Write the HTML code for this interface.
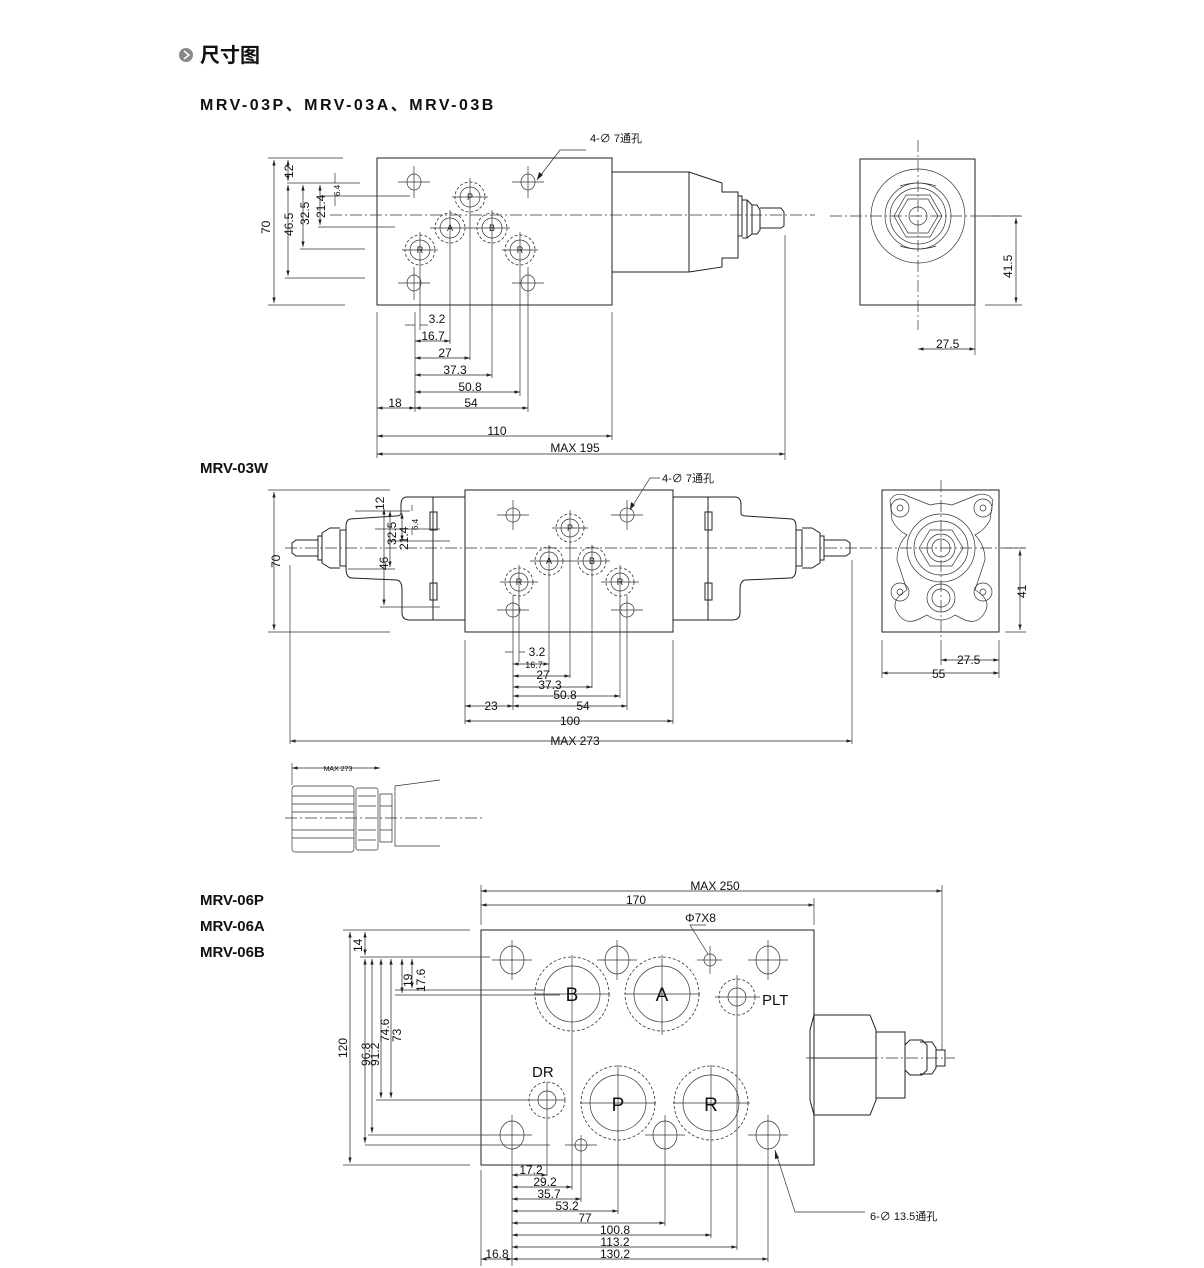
<!DOCTYPE html>
<html><head><meta charset="utf-8"><style>
body{margin:0;background:#fff;}
svg{display:block;}
text{font-family:"Liberation Sans","Noto Sans CJK SC",sans-serif;fill:#111;}
.l{stroke:#222;stroke-width:1;fill:none;}
.t{stroke:#333;stroke-width:.7;fill:none;}
.c{stroke:#333;stroke-width:.7;fill:none;stroke-dasharray:12 3 2 3;}
.d{stroke:#333;stroke-width:.8;fill:none;stroke-dasharray:3 2;}
.dm{stroke:#222;stroke-width:.7;fill:none;marker-start:url(#a);marker-end:url(#a);}
.s{font-size:12px;}
</style></head><body>
<svg width="1204" height="1268" viewBox="0 0 1204 1268" xmlns="http://www.w3.org/2000/svg">
<defs>
<marker id="a" viewBox="0 0 10 6" refX="10" refY="3" markerWidth="8" markerHeight="5" orient="auto-start-reverse"><path d="M0,0 L10,3 L0,6z" fill="#222"/></marker>
</defs>
<circle cx="186" cy="55" r="7" fill="#888"/><path d="M184,51 L189,55 L184,59" stroke="#fff" stroke-width="1.5" fill="none"/>
<text x="200" y="62" style="font-size:20px;font-weight:bold">尺寸图</text>
<text x="200" y="110" style="font-size:16px;font-weight:bold;letter-spacing:2.5px">MRV-03P、MRV-03A、MRV-03B</text>
<text x="200" y="473" style="font-size:15px;font-weight:bold">MRV-03W</text>
<text x="200" y="905" style="font-size:15px;font-weight:bold">MRV-06P</text>
<text x="200" y="931" style="font-size:15px;font-weight:bold">MRV-06A</text>
<text x="200" y="957" style="font-size:15px;font-weight:bold">MRV-06B</text>

<rect class="l" x="377" y="158" width="235" height="147"/>
<path class="l" d="M612,172 H689 L722,183 V192 H738 V258 H722 V267 L689,272 H612"/>
<path class="l" d="M689,172 V272"/>
<path class="l" d="M738,196 H742 V236 H738 M742,200 H747 L752,205 V234 L747,238 H742 M747,200 V238 M752,205 H757 L760,210 V230 L757,234 H752 M760,208 H781 L784,212 V226 L781,228 H760"/>
<path class="c" d="M330,215 H815"/>
<g class="t">
<ellipse cx="414" cy="182" rx="7" ry="8"/><ellipse cx="528" cy="182" rx="7" ry="8"/>
<ellipse cx="414" cy="283" rx="7" ry="8"/><ellipse cx="528" cy="283" rx="7" ry="8"/>
<circle cx="470" cy="197" r="10"/><circle cx="450" cy="228" r="10"/><circle cx="492" cy="228" r="10"/>
<circle cx="420" cy="250" r="10"/><circle cx="520" cy="250" r="10"/>
<path d="M398,182 H430 M414,166 V198 M512,182 H544 M528,166 V198 M398,283 H430 M414,267 V300 M512,283 H544 M528,267 V300 M452,197 H488 M470,178 V216 M430,228 H510 M450,210 V246 M492,210 V246 M402,250 H438 M420,232 V268 M502,250 H538 M520,232 V268"/>
</g>
<g class="d"><circle cx="470" cy="197" r="15"/><circle cx="450" cy="228" r="15"/><circle cx="492" cy="228" r="15"/><circle cx="420" cy="250" r="15"/><circle cx="520" cy="250" r="15"/></g>
<g style="font-size:9px" text-anchor="middle"><text x="470" y="200">P</text><text x="450" y="231">A</text><text x="492" y="231">B</text><text x="420" y="253">R</text><text x="520" y="253">R</text></g>
<path class="t" d="M268,158 H343 M287,183 H360 M303,183 H360 M320,196 H410 M318,227 H395 M300,249 H365 M285,278 H365 M268,305 H345"/>
<path class="dm" d="M274,160 V303"/><path class="dm" d="M288,160 V181"/><path class="dm" d="M288,185 V276"/>
<path class="dm" d="M303,185 V247"/><path class="dm" d="M320,185 V225"/><path class="t" d="M335,173 V183 M335,196 V206"/>
<g class="s"><text transform="translate(270,234) rotate(-90)">70</text><text transform="translate(293,178) rotate(-90)">12</text><text transform="translate(293,236) rotate(-90)">46.5</text><text transform="translate(309,225) rotate(-90)">32.5</text><text transform="translate(325,218) rotate(-90)">21.4</text><text transform="translate(340,196) rotate(-90)" style="font-size:8px">6.4</text></g>
<path class="t" d="M377,312 V458 M415,312 V412 M420,268 V330 M450,246 V344 M470,216 V360 M492,246 V378 M520,268 V396 M528,300 V412 M612,312 V440 M785,235 V460"/>
<path class="t" d="M405,325 H415 M420,325 H428"/>
<path class="dm" d="M415,341 H450"/><path class="dm" d="M415,358 H470"/><path class="dm" d="M415,375 H492"/><path class="dm" d="M415,392 H520"/><path class="dm" d="M377,408 H415"/><path class="dm" d="M415,408 H528"/><path class="dm" d="M377,436 H612"/><path class="dm" d="M377,454 H785"/>
<g class="s" text-anchor="middle"><text x="437" y="323">3.2</text><text x="433" y="340">16.7</text><text x="445" y="357">27</text><text x="455" y="374">37.3</text><text x="470" y="391">50.8</text><text x="395" y="407">18</text><text x="471" y="407">54</text><text x="497" y="435">110</text><text x="575" y="452">MAX  195</text></g>
<path class="t" d="M537,180 L560,150 H586"/><path d="M537,180 l2,-8 l4,3z" fill="#222"/>
<text x="590" y="142" style="font-size:11px">4-∅ 7通孔</text>
<rect class="l" x="860" y="159" width="115" height="146"/>
<g class="t"><circle cx="918" cy="216" r="47"/><circle cx="918" cy="216" r="33"/><circle cx="918" cy="216" r="28"/><circle cx="918" cy="216" r="9"/>
<path d="M894,216 L906,195 H930 L942,216 L930,237 H906z"/><path d="M898,216 L908,199 H928 L938,216 L928,233 H908z"/>
<path d="M900,186 Q918,180 936,186 M900,246 Q918,252 936,246"/></g>
<path class="c" d="M918,140 V330 M830,216 H1020"/>
<path class="t" d="M975,305 V355 M985,305 H1022 M980,216 H1022"/>
<path class="dm" d="M1016,218 V303"/><path class="dm" d="M918,349 H975"/>
<g class="s"><text transform="translate(1012,278) rotate(-90)">41.5</text><text x="936" y="348">27.5</text></g>

<rect class="l" x="465" y="490" width="208" height="142"/>
<path class="l" d="M465,497 H407 Q401,497 401,505 V513 Q401,516 396,516 L350,519 Q346,520 346,526 V568 Q346,578 352,578 L397,580 Q402,581 402,590 V613 Q402,620 410,620 H465"/>
<path class="l" d="M433,497 V620 M430,512 H437 V530 H430z M430,583 H437 V600 H430z"/>
<path class="l" d="M673,497 H735 Q741,497 741,505 V513 Q741,516 746,516 L792,519 Q796,520 796,526 V568 Q796,578 790,578 L745,580 Q740,581 740,590 V613 Q740,620 732,620 H673"/>
<path class="l" d="M708,497 V620 M705,512 H712 V530 H705z M705,583 H712 V600 H705z"/>
<path class="l" d="M346,530 H340 V566 H346 M340,528 L330,528 L322,533 V563 L330,568 H340 M322,536 H318 V560 H322 M318,540 H296 L292,543 V553 L296,556 H318"/>
<path class="l" d="M796,530 H802 V566 H796 M802,528 L812,528 L820,533 V563 L812,568 H802 M820,536 H824 V560 H820 M824,540 H846 L850,543 V553 L846,556 H824"/>
<path class="c" d="M285,548 H862"/>
<g class="t">
<circle cx="513" cy="515" r="7"/><circle cx="627" cy="515" r="7"/><circle cx="513" cy="610" r="7"/><circle cx="627" cy="610" r="7"/>
<circle cx="570" cy="528" r="9"/><circle cx="549" cy="561" r="9"/><circle cx="592" cy="561" r="9"/><circle cx="519" cy="582" r="9"/><circle cx="620" cy="582" r="9"/>
<path d="M497,515 H529 M513,500 V530 M611,515 H643 M627,500 V530 M497,610 H529 M513,595 V625 M611,610 H643 M627,595 V625 M552,528 H588 M570,510 V546 M530,561 H610 M549,545 V577 M592,545 V577 M500,582 H538 M519,565 V600 M601,582 H639 M620,565 V600"/></g>
<g class="d"><circle cx="570" cy="528" r="14"/><circle cx="549" cy="561" r="14"/><circle cx="592" cy="561" r="14"/><circle cx="519" cy="582" r="14"/><circle cx="620" cy="582" r="14"/></g>
<g style="font-size:9px" text-anchor="middle"><text x="570" y="531">P</text><text x="549" y="564">A</text><text x="592" y="564">B</text><text x="519" y="585">R</text><text x="620" y="585">R</text></g>
<path class="t" d="M268,490 H390 M268,632 H390 M355,511 H410 M375,529 H440 M388,541 H450 M348,569 H395 M380,607 H440"/>
<path class="dm" d="M274,492 V630"/><path class="dm" d="M384,509 V605"/><path class="dm" d="M390,511 V567"/><path class="dm" d="M402,513 V541"/><path class="t" d="M412,505 V511 M412,529 V535"/>
<g class="s"><text transform="translate(280,568) rotate(-90)">70</text><text transform="translate(384,510) rotate(-90)">12</text><text transform="translate(388,570) rotate(-90)">46</text><text transform="translate(396,545) rotate(-90)">32.5</text><text transform="translate(408,550) rotate(-90)">21.4</text><text transform="translate(418,530) rotate(-90)" style="font-size:8px">6.4</text></g>
<path class="t" d="M465,640 V724 M513,625 V710 M519,598 V662 M549,577 V672 M570,546 V678 M592,577 V688 M620,600 V698 M627,625 V710 M673,640 V724 M290,565 V744 M852,560 V744"/>
<path class="t" d="M505,652 H513 M519,652 H525"/>
<path class="dm" d="M513,664 H549"/><path class="dm" d="M513,676 H570"/><path class="dm" d="M513,687 H592"/><path class="dm" d="M513,696 H620"/><path class="dm" d="M465,706 H513"/><path class="dm" d="M513,706 H627"/><path class="dm" d="M465,721 H673"/><path class="dm" d="M290,741 H852"/>
<g class="s" text-anchor="middle"><text x="537" y="656">3.2</text><text x="534" y="668" style="font-size:9px">16.7</text><text x="543" y="679">27</text><text x="550" y="689">37.3</text><text x="565" y="699">50.8</text><text x="491" y="710">23</text><text x="583" y="710">54</text><text x="570" y="725">100</text><text x="575" y="745">MAX  273</text></g>
<path class="t" d="M630,510 L650,478 H660"/><path d="M630,510 l1,-8 l4,3z" fill="#222"/>
<text x="662" y="482" style="font-size:11px">4-∅ 7通孔</text>
<rect class="l" x="882" y="490" width="117" height="142"/>
<g class="t">
<path d="M890,500 Q895,492 905,495 L930,505 Q941,502 952,505 L977,495 Q988,492 993,500 L990,520 Q985,530 975,535 Q985,545 985,560 L975,590 Q992,600 985,612 Q978,625 965,620 L955,615 Q941,625 927,615 L917,620 Q904,625 897,612 Q890,600 907,590 L897,560 Q897,545 907,535 Q897,530 892,520z"/>
<circle cx="900" cy="508" r="9"/><circle cx="900" cy="508" r="3"/><circle cx="983" cy="508" r="9"/><circle cx="983" cy="508" r="3"/>
<circle cx="900" cy="592" r="9"/><circle cx="900" cy="592" r="3"/><circle cx="983" cy="592" r="9"/><circle cx="983" cy="592" r="3"/>
<circle cx="941" cy="548" r="34"/><circle cx="941" cy="548" r="27"/><circle cx="941" cy="548" r="14"/><circle cx="941" cy="548" r="9"/>
<path d="M919,548 L930,530 H952 L963,548 L952,566 H930z"/>
<circle cx="941" cy="598" r="14"/><circle cx="941" cy="598" r="9"/></g>
<path class="c" d="M941,480 V640 M860,548 H1025"/>
<path class="t" d="M882,640 V678 M999,640 V678 M941,640 V665 M1005,632 H1026 M1005,548 H1026"/>
<path class="dm" d="M1020,550 V630"/><path class="dm" d="M941,660 H999"/><path class="dm" d="M882,673 H999"/>
<g class="s"><text transform="translate(1026,598) rotate(-90)">41</text><text x="957" y="664">27.5</text><text x="932" y="678">55</text></g>
<path class="t" d="M292,763 V785"/><path class="dm" d="M292,768 H380"/>
<text x="338" y="771" style="font-size:7px" text-anchor="middle">MAX 273</text>
<g class="t"><rect x="292" y="786" width="62" height="66" rx="3"/><rect x="356" y="788" width="22" height="62" rx="2"/>
<path d="M292,796 H354 M292,804 H354 M292,812 H354 M292,830 H354 M292,838 H354 M358,796 H376 M358,806 H376 M358,830 H376 M358,840 H376"/>
<path d="M380,794 H392 V842 H380z M380,806 H392 M380,830 H392"/>
<path d="M395,786 L440,780 M395,786 V846 H440"/></g>
<path class="c" d="M285,818 H485"/>

<rect class="l" x="481" y="930" width="333" height="235"/>
<path class="l" d="M814,1015 H870 L876,1030 V1100 L870,1115 H814 M814,1015 L810,1030 V1100 L814,1115 M810,1058 H876 M876,1032 H905 V1098 H876 M905,1045 L910,1040 H922 L927,1045 V1070 L922,1075 H910 L905,1070z M920,1042 H932 L936,1048 V1068 L932,1074 H920 M936,1050 H945 V1066 H936"/>
<path class="c" d="M806,1058 H955"/>
<g class="t">
<ellipse cx="512" cy="960" rx="12" ry="14"/><ellipse cx="617" cy="960" rx="12" ry="14"/><ellipse cx="768" cy="960" rx="12" ry="14"/>
<ellipse cx="512" cy="1135" rx="12" ry="14"/><ellipse cx="768" cy="1135" rx="12" ry="14"/><ellipse cx="665" cy="1135" rx="12" ry="14"/>
<circle cx="710" cy="960" r="6"/><circle cx="581" cy="1145" r="6"/>
<circle cx="572" cy="994" r="28"/><circle cx="662" cy="994" r="28"/><circle cx="737" cy="997" r="9"/><circle cx="547" cy="1100" r="9"/>
<circle cx="618" cy="1103" r="28"/><circle cx="711" cy="1103" r="28"/>
<path d="M492,960 H532 M512,940 V980 M597,960 H637 M617,940 V980 M748,960 H788 M768,940 V980 M697,960 H722 M710,946 V974 M492,1135 H532 M512,1115 V1155 M748,1135 H788 M768,1115 V1155 M645,1135 H685 M665,1115 V1155 M565,1145 H597 M581,1135 V1160 M535,994 H610 M572,955 V1035 M625,994 H700 M662,955 V1035 M715,997 H760 M737,975 V1020 M530,1100 H565 M547,1082 V1118 M580,1103 H656 M618,1065 V1140 M673,1103 H750 M711,1065 V1140"/></g>
<g class="d"><circle cx="572" cy="994" r="37"/><circle cx="662" cy="994" r="37"/><circle cx="737" cy="997" r="18"/><circle cx="547" cy="1100" r="18"/><circle cx="618" cy="1103" r="37"/><circle cx="711" cy="1103" r="37"/></g>
<g style="font-size:19px" text-anchor="middle"><text x="572" y="1001">B</text><text x="662" y="1001">A</text><text x="618" y="1111">P</text><text x="711" y="1111">R</text></g>
<text x="762" y="1005" style="font-size:15px">PLT</text><text x="532" y="1077" style="font-size:15px">DR</text>
<path class="t" d="M481,885 V925 M814,898 V925 M942,885 V1050"/>
<path class="dm" d="M481,891 H942"/><path class="dm" d="M481,905 H814"/>
<g class="s" text-anchor="middle"><text x="715" y="890">MAX  250</text><text x="636" y="904">170</text></g>
<path class="t" d="M708,954 L690,925 H706"/><text x="685" y="922" style="font-size:12px">Φ7X8</text>
<path class="t" d="M343,930 H470 M343,1165 H470 M360,957 H490 M395,990 H545 M395,995 H560 M376,1100 H530 M368,1135 H492 M365,1145 H550"/>
<path class="dm" d="M350,932 V1163"/><path class="dm" d="M365,932 V955"/><path class="dm" d="M365,959 V1143"/><path class="dm" d="M372,959 V1133"/><path class="dm" d="M381,959 V1098"/><path class="dm" d="M391,959 V1098"/><path class="dm" d="M402,959 V993"/><path class="dm" d="M412,959 V988"/>
<g class="s"><text transform="translate(347,1058) rotate(-90)">120</text><text transform="translate(362,952) rotate(-90)">14</text><text transform="translate(370,1066) rotate(-90)">96.8</text><text transform="translate(379,1066) rotate(-90)">91.2</text><text transform="translate(389,1042) rotate(-90)">74.6</text><text transform="translate(401,1042) rotate(-90)">73</text><text transform="translate(412,987) rotate(-90)">19</text><text transform="translate(425,992) rotate(-90)">17.6</text></g>
<path class="t" d="M481,1170 V1266 M512,1155 V1266 M547,1118 V1176 M572,1035 V1190 M581,1160 V1202 M618,1140 V1214 M665,1155 V1226 M711,1140 V1238 M737,1020 V1250 M768,1155 V1262"/>
<path class="dm" d="M512,1175 H547"/><path class="dm" d="M512,1187 H572"/><path class="dm" d="M512,1199 H581"/><path class="dm" d="M512,1211 H618"/><path class="dm" d="M512,1223 H665"/><path class="dm" d="M512,1235 H711"/><path class="dm" d="M512,1247 H737"/><path class="dm" d="M512,1259 H768"/><path class="dm" d="M481,1259 H512"/>
<g class="s" text-anchor="middle"><text x="531" y="1174">17.2</text><text x="545" y="1186">29.2</text><text x="549" y="1198">35.7</text><text x="567" y="1210">53.2</text><text x="585" y="1222">77</text><text x="615" y="1234">100.8</text><text x="615" y="1246">113.2</text><text x="615" y="1258">130.2</text><text x="497" y="1258">16.8</text></g>
<path class="t" d="M775,1150 L795,1212 H865"/><path d="M775,1150 l0,9 l4,-1z" fill="#222"/>
<text x="870" y="1220" style="font-size:11px">6-∅ 13.5通孔</text>
</svg>
</body></html>
